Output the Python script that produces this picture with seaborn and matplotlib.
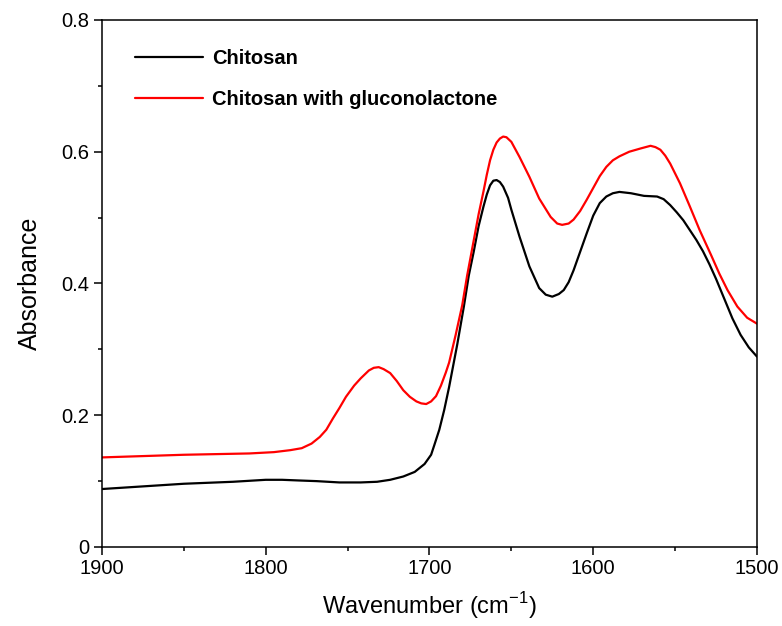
import numpy as np
import pandas as pd
import matplotlib
matplotlib.use("Agg")
import matplotlib.pyplot as plt
import seaborn as sns

# -------------------------------------------------
# Data
# -------------------------------------------------

wn_chitosan = [1900, 1850, 1820, 1800, 1790, 1780, 1769, 1755, 1742, 1732,
               1724, 1716, 1709, 1703, 1699, 1697, 1694, 1691, 1688, 1685,
               1683, 1679, 1676, 1673, 1670, 1667, 1665, 1663, 1661, 1659,
               1657, 1655, 1652, 1650, 1645, 1639, 1633, 1629, 1625, 1621,
               1618, 1615, 1612, 1608, 1604, 1600, 1596, 1592, 1588, 1584,
               1577, 1569, 1561, 1557, 1553, 1549, 1545, 1541, 1537, 1533,
               1529, 1525, 1520, 1515, 1510, 1505, 1500]
abs_chitosan = [0.088, 0.096, 0.099, 0.102, 0.102, 0.101, 0.100, 0.098, 0.098, 0.099,
                0.102, 0.107, 0.114, 0.126, 0.140, 0.155, 0.178, 0.208, 0.243, 0.282,
                0.308, 0.365, 0.412, 0.448, 0.487, 0.517, 0.535, 0.549, 0.556, 0.557,
                0.554, 0.547, 0.530, 0.512, 0.471, 0.426, 0.393, 0.383, 0.380, 0.384,
                0.390, 0.402, 0.420, 0.448, 0.476, 0.503, 0.522, 0.532, 0.537, 0.539,
                0.537, 0.533, 0.532, 0.528, 0.519, 0.508, 0.496, 0.481, 0.466, 0.449,
                0.429, 0.407, 0.377, 0.347, 0.322, 0.303, 0.289]

wn_gluco = [1900, 1850, 1810, 1795, 1785, 1778, 1772, 1767, 1763, 1759,
            1755, 1751, 1746, 1742, 1737, 1734, 1731, 1728, 1724, 1720,
            1716, 1712, 1708, 1705, 1702, 1699, 1696, 1693, 1690, 1688,
            1684, 1680, 1677, 1673, 1670, 1667, 1665, 1663, 1661, 1659,
            1657, 1655, 1653, 1650, 1645, 1639, 1633, 1626, 1622, 1619,
            1615, 1612, 1608, 1604, 1600, 1596, 1592, 1588, 1584, 1578,
            1571, 1565, 1562, 1559, 1556, 1553, 1547, 1541, 1535, 1528,
            1523, 1518, 1512, 1506, 1500]
abs_gluco = [0.136, 0.140, 0.142, 0.144, 0.147, 0.150, 0.157, 0.167, 0.178, 0.195,
             0.211, 0.228, 0.245, 0.256, 0.268, 0.272, 0.273, 0.270, 0.264, 0.252,
             0.238, 0.228, 0.221, 0.218, 0.217, 0.221, 0.229, 0.245, 0.265, 0.280,
             0.322, 0.367, 0.412, 0.465, 0.505, 0.540, 0.565, 0.587, 0.603, 0.614,
             0.620, 0.623, 0.622, 0.615, 0.592, 0.562, 0.529, 0.501, 0.491, 0.489,
             0.491, 0.497, 0.510, 0.527, 0.545, 0.563, 0.577, 0.587, 0.593, 0.600,
             0.605, 0.609, 0.607, 0.603, 0.594, 0.582, 0.552, 0.517, 0.481, 0.443,
             0.415, 0.390, 0.365, 0.348, 0.339]

x_ticks = [1900, 1800, 1700, 1600, 1500]
y_ticks = [0, 0.2, 0.4, 0.6, 0.8]
y_tick_labels = ["0", "0.2", "0.4", "0.6", "0.8"]

df_c = pd.DataFrame({"wn": wn_chitosan, "A": abs_chitosan})
df_g = pd.DataFrame({"wn": wn_gluco, "A": abs_gluco})

# -------------------------------------------------
# Style
# -------------------------------------------------

sns.set_theme(style="ticks")
plt.rcParams["font.family"] = ["Liberation Sans", "DejaVu Sans"]
plt.rcParams["axes.unicode_minus"] = False
plt.rcParams["lines.solid_joinstyle"] = "round"
plt.rcParams["text.color"] = "black"
plt.rcParams["axes.labelcolor"] = "black"

fig = plt.figure(figsize=(7.82, 6.26), dpi=100)
ax = fig.add_axes([0.1304, 0.1262, 0.8376, 0.8419])

sns.lineplot(data=df_c, x="wn", y="A", color="black", lw=1.6,
             estimator=None, sort=False, label="Chitosan", ax=ax)
sns.lineplot(data=df_g, x="wn", y="A", color="#ff0000", lw=1.6,
             estimator=None, sort=False, label="Chitosan with gluconolactone", ax=ax)

ax.set_xlim(1900, 1500)
ax.set_ylim(0, 0.8)
ax.set_xticks(x_ticks)
ax.set_xticklabels([str(t) for t in x_ticks])
ax.set_yticks(y_ticks)
ax.set_yticklabels(y_tick_labels)
ax.set_xticks([1850, 1750, 1650, 1550], minor=True)
ax.set_yticks([0.1, 0.3, 0.5, 0.7], minor=True)

ax.tick_params(axis="both", which="major", direction="out", length=5.5,
               width=1.1, labelsize=14.5, color="black", labelcolor="black")
ax.tick_params(axis="both", which="minor", direction="out", length=3,
               width=1.1, color="black")
ax.tick_params(top=False, right=False, which="both")

for s in ax.spines.values():
    s.set_visible(True)
    s.set_linewidth(1.1)
    s.set_color("black")

ax.set_xlabel("Wavenumber (cm$^{\\mathregular{-1}}$)", fontsize=17, color="black", labelpad=8)
ax.set_ylabel("Absorbance", fontsize=18, color="black", labelpad=14)

leg = ax.legend(loc="upper left", bbox_to_anchor=(0.05, 0.945), frameon=False,
                borderpad=0, borderaxespad=0, handlelength=3.4,
                handletextpad=0.45, labelspacing=1.08, labelcolor="black",
                prop={"weight": "bold", "size": 14.5})

fig.savefig("out.png", dpi=100)
